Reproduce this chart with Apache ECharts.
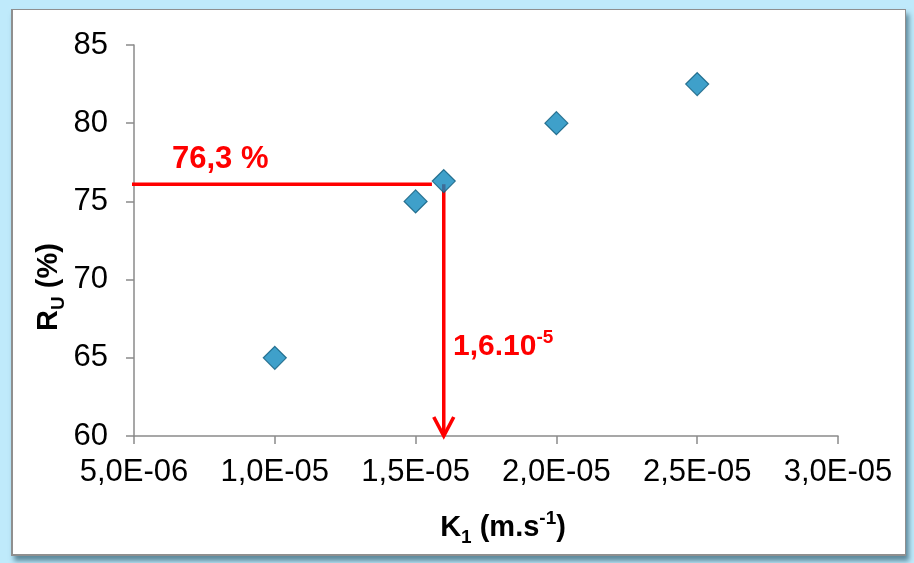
<!DOCTYPE html>
<html>
<head>
<meta charset="utf-8">
<script src="https://cdn.jsdelivr.net/npm/echarts@6/dist/echarts.min.js"></script>
<style>
  html, body { margin: 0; padding: 0; width: 914px; height: 563px; overflow: hidden; background: #bfeafb; }
  #frame { position: absolute; left: 11px; top: 9px; width: 892px; height: 544px; background: #fff;
           border: 1px solid #8f8f8f; border-left-width: 2px; border-bottom-width: 2px;
           box-shadow: 3px 5px 5px rgba(40, 85, 105, 0.65); }
  #chart { position: absolute; left: 0; top: 0; width: 914px; height: 563px; }
</style>
</head>
<body>
<div id="frame"></div>
<div id="chart"></div>
<script>
// ---- data ----
const kValues = [1.0e-5, 1.5e-5, 1.6e-5, 2.0e-5, 2.5e-5];      // K1 (m.s-1)
const ruValues = [65, 75, 76.3, 80, 82.5];                      // RU (%)
const xTickLabels = ['5,0E-06', '1,0E-05', '1,5E-05', '2,0E-05', '2,5E-05', '3,0E-05'];
const yTickLabels = ['60', '65', '70', '75', '80', '85'];
const hGuideX = [4.8e-6, 1.558e-5];    // horizontal red guide (x extent)
const hGuideY = 76.1;
const vGuideX = 1.6e-5;                // vertical red arrow
const vGuideY = [76.1, 60];

const FONT = 'Arial, "Liberation Sans", sans-serif';
const chart = echarts.init(document.getElementById('chart'), null, { renderer: 'canvas' });

const option = {
  backgroundColor: 'transparent',
  animation: false,
  grid: { left: 134, right: 76, top: 45, bottom: 127, containLabel: false },
  xAxis: {
    type: 'value', min: 5e-6, max: 3e-5, interval: 5e-6,
    axisLine: { show: true, lineStyle: { color: '#8a8a8a', width: 1.5 } },
    axisTick: { show: true, length: 8, lineStyle: { color: '#8a8a8a', width: 1.5 } },
    splitLine: { show: false },
    axisLabel: { margin: 21, fontSize: 31, color: '#000', fontFamily: FONT,
                 formatter: (v, i) => xTickLabels[i] }
  },
  yAxis: {
    type: 'value', min: 60, max: 85, interval: 5,
    axisLine: { show: true, lineStyle: { color: '#8a8a8a', width: 1.5 } },
    axisTick: { show: true, length: 8, lineStyle: { color: '#8a8a8a', width: 1.5 } },
    splitLine: { show: false },
    axisLabel: { margin: 26, fontSize: 31, color: '#000', fontFamily: FONT,
                 formatter: (v, i) => yTickLabels[i] }
  },
  series: [
    {
      type: 'line', clip: false, silent: true, z: 3,
      data: [[hGuideX[0], hGuideY], [hGuideX[1], hGuideY]],
      symbol: 'none',
      lineStyle: { color: '#ff0000', width: 3.5 }
    },
    {
      type: 'line', clip: false, silent: true, z: 3,
      data: [
        { value: [vGuideX, vGuideY[0]], symbol: 'none' },
        { value: [vGuideX, vGuideY[1]], symbol: 'path://M0,0 L11,19 L22,0',
          symbolSize: [20, 19], symbolOffset: [0, -9.5], symbolKeepAspect: false }
      ],
      lineStyle: { color: '#ff0000', width: 3.5 },
      itemStyle: { color: 'rgba(0,0,0,0)', borderColor: '#ff0000', borderWidth: 3.5 }
    },
    {
      type: 'scatter', z: 5,
      data: kValues.map((k, i) => [k, ruValues[i]]),
      symbol: 'diamond', symbolSize: 23,
      itemStyle: { color: '#0f88bd', borderColor: '#0b5a7c', borderWidth: 1.2 }
    }
  ],
  graphic: [
    {
      type: 'text', left: 172, top: 144, z: 10,
      style: { text: '76,3 %', fill: '#ff0000', font: 'bold 31px ' + FONT }
    },
    {
      type: 'text', left: 453, top: 328, z: 10,
      style: {
        text: '{b|1,6.10}{s|-5}', fill: '#ff0000',
        rich: {
          b: { fontSize: 30, fontWeight: 'bold', fontFamily: FONT, fill: '#ff0000', lineHeight: 34, verticalAlign: 'bottom' },
          s: { fontSize: 19, fontWeight: 'bold', fontFamily: FONT, fill: '#ff0000', lineHeight: 34, verticalAlign: 'top' }
        }
      }
    },
    {
      type: 'text', x: 503, y: 528, z: 10,
      style: {
        text: '{b|K}{sub|1}{b| (m.s}{sup|-1}{b|)}', align: 'center', verticalAlign: 'middle',
        rich: {
          b: { fontSize: 29, fontWeight: 'bold', fontFamily: FONT, fill: '#000', lineHeight: 36, verticalAlign: 'middle' },
          sub: { fontSize: 19, fontWeight: 'bold', fontFamily: FONT, fill: '#000', lineHeight: 38, verticalAlign: 'bottom' },
          sup: { fontSize: 19, fontWeight: 'bold', fontFamily: FONT, fill: '#000', lineHeight: 36, verticalAlign: 'top' }
        }
      }
    },
    {
      type: 'text', x: 49, y: 287, rotation: Math.PI / 2, z: 10,
      style: {
        text: '{b|R}{sub|U}{b| (%)}', align: 'center', verticalAlign: 'middle',
        rich: {
          b: { fontSize: 29, fontWeight: 'bold', fontFamily: FONT, fill: '#000', lineHeight: 36, verticalAlign: 'middle' },
          sub: { fontSize: 19, fontWeight: 'bold', fontFamily: FONT, fill: '#000', lineHeight: 38, verticalAlign: 'bottom' }
        }
      }
    }
  ]
};
chart.setOption(option);
</script>
</body>
</html>
